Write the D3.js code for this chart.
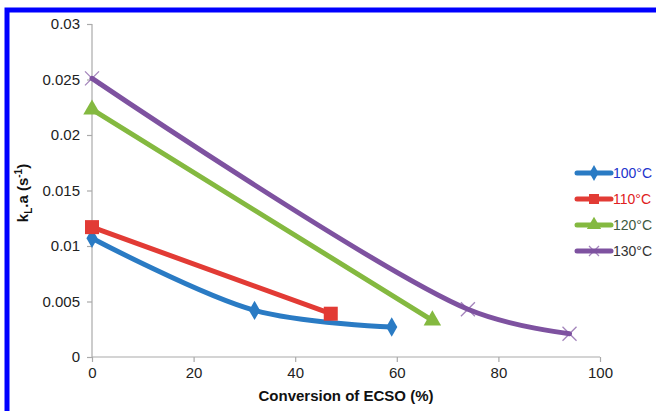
<!DOCTYPE html>
<html><head><meta charset="utf-8">
<script src="https://cdn.jsdelivr.net/npm/d3@7"></script>
<style>body{margin:0;background:#fff}svg{display:block}</style>
</head><body><svg id="c" width="656" height="411"></svg>
<script>
const seriesNames = ["100°C","110°C","120°C","130°C"];
const seriesColors = ["#2a7bc4","#e23b35","#84b940","#7e52a0"];
const legendTextColors = ["#2233cc","#e02020","#405a40","#333333"];
const markers = ["diamond","square","triangle","cross"];
const x100 = [0, 32, 59];      const y100 = [0.0107, 0.0042, 0.0027];
const x110 = [0, 47];          const y110 = [0.0117, 0.0039];
const x120 = [0, 67];          const y120 = [0.0223, 0.0033];
const x130 = [0, 74, 94];      const y130 = [0.0251, 0.0043, 0.0021];
const xTicks = [0,20,40,60,80,100];
const yTicks = [0,0.005,0.01,0.015,0.02,0.025,0.03];
const yTickLabels = ["0","0.005","0.01","0.015","0.02","0.025","0.03"];

const allX = [x100,x110,x120,x130], allY = [y100,y110,y120,y130];
const svg = d3.select("#c");
const font = "Helvetica, Arial, 'Liberation Sans', sans-serif";

// blue frame (top and left)
svg.append("rect").attr("x",7).attr("y",10).attr("width",660).attr("height",420).attr("fill","none").attr("stroke","#0000ff").attr("stroke-width",5);

const x = d3.scaleLinear().domain([0,100]).range([92,600]);
const y = d3.scaleLinear().domain([0,0.03]).range([357,24]);

const gx = svg.append("g").attr("transform","translate(0,357)")
  .call(d3.axisBottom(x).tickValues(xTicks).tickSize(5).tickPadding(5));
const gy = svg.append("g").attr("transform","translate(92,0)")
  .call(d3.axisLeft(y).tickValues(yTicks).tickFormat((d,i)=>yTickLabels[i]).tickSize(5).tickPadding(7));
[gx,gy].forEach(g=>{
  g.select(".domain").attr("stroke","#aaaaaa").attr("stroke-width",1.2);
  g.selectAll(".tick line").attr("stroke","#aaaaaa").attr("stroke-width",1.2);
  g.selectAll("text").attr("font-family",font).attr("font-size",15).attr("fill","#222");
});
gx.select(".domain").attr("d",`M${x(0)},0H${x(100)}`);
gy.select(".domain").attr("d",`M0,${y(0)}V${y(0.03)}`);

svg.append("text").attr("x",346).attr("y",401).attr("text-anchor","middle")
  .attr("font-family",font).attr("font-size",15).attr("font-weight","bold").attr("fill","#111")
  .text("Conversion of ECSO (%)");
const yt = svg.append("text").attr("transform","translate(28,193) rotate(-90)").attr("text-anchor","middle")
  .attr("font-family",font).attr("font-size",15).attr("font-weight","bold").attr("fill","#111");
yt.append("tspan").text("k");
yt.append("tspan").attr("font-size",10).attr("dy",4).text("L");
yt.append("tspan").attr("dy",-4).text(".a (s");
yt.append("tspan").attr("font-size",10).attr("dy",-6).text("-1");
yt.append("tspan").attr("dy",6).text(")");

function drawMarker(g, type, cx, cy, color, s){
  if(type==="diamond"){
    g.append("path").attr("d",d3.symbol().type(d3.symbolDiamond).size(s*9)()).attr("transform",`translate(${cx},${cy})`).attr("fill",color);
  } else if(type==="square"){
    g.append("rect").attr("x",cx-s/2-1).attr("y",cy-s/2-1).attr("width",s+2).attr("height",s+2).attr("fill",color);
  } else if(type==="triangle"){
    g.append("path").attr("d",d3.symbol().type(d3.symbolTriangle).size(s*11)()).attr("transform",`translate(${cx},${cy})`).attr("fill",color);
  } else {
    const h = s/2+1;
    g.append("path").attr("d",`M${cx-h},${cy-h}L${cx+h},${cy+h}M${cx-h},${cy+h}L${cx+h},${cy-h}`).attr("stroke",color).attr("stroke-width",1.3).attr("opacity",0.7);
  }
}

const line = d3.line().x(d=>x(d[0])).y(d=>y(d[1])).curve(d3.curveCatmullRom.alpha(0.5));
const plot = svg.append("g");
allX.forEach((xs,i)=>{
  const pts = xs.map((v,j)=>[v, allY[i][j]]);
  plot.append("path").attr("d",line(pts)).attr("fill","none").attr("stroke",seriesColors[i]).attr("stroke-width",5).attr("stroke-linecap","round");
});
allX.forEach((xs,i)=>{
  xs.forEach((v,j)=>drawMarker(plot, markers[i], x(v), y(allY[i][j]), seriesColors[i], 12));
});

// legend
const legY = [173,199,225,251];
seriesNames.forEach((n,i)=>{
  const g = svg.append("g");
  g.append("line").attr("x1",577).attr("x2",611).attr("y1",legY[i]).attr("y2",legY[i]).attr("stroke",seriesColors[i]).attr("stroke-width",5).attr("stroke-linecap","round");
  drawMarker(g, markers[i], 594, legY[i], seriesColors[i], 8);
  g.append("text").attr("x",613).attr("y",legY[i]+5).attr("font-family",font).attr("font-size",14).attr("fill",legendTextColors[i]).text(n);
});
</script></body></html>
